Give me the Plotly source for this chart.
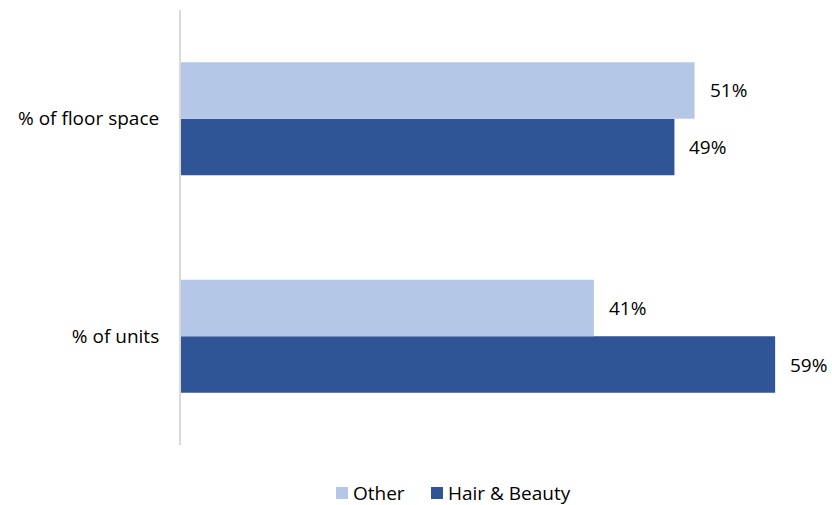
import plotly.graph_objects as go

categories = ["% of units", "% of floor space"]
hair_beauty = [59, 49]
other = [41, 51]

FONT = "Open Sans"
FSIZE = 19
TEXT_COLOR = "#000000"
DARK = "#2F5597"
LIGHT = "#B4C7E7"

L, R, T, B = 181, 20, 10, 60
W, H = 832, 505
PW, PH = W - L - R, H - T - B


def px_x(px):
    return (px - L) / PW


def px_y(py):
    return (H - B - py) / PH


fig = go.Figure()
fig.add_trace(go.Bar(
    name="Hair & Beauty", y=categories, x=hair_beauty, orientation="h",
    marker=dict(color=DARK, line=dict(width=0)),
))
fig.add_trace(go.Bar(
    name="Other", y=categories, x=other, orientation="h",
    marker=dict(color=LIGHT, line=dict(width=0)),
))

# value labels placed just beyond each bar end
bar_w = 0.52 / 2
for vals, off in ((hair_beauty, -bar_w / 2), (other, bar_w / 2)):
    for i, v in enumerate(vals):
        fig.add_annotation(
            x=v, y=i + off, xref="x", yref="y", text=f"{v}%",
            showarrow=False, xanchor="left", yanchor="middle", xshift=13,
            font=dict(family=FONT, size=FSIZE, color=TEXT_COLOR),
        )

# compact legend below the plot: square swatch followed by its label
legend_items = [("Other", LIGHT, 336), ("Hair & Beauty", DARK, 431)]
for name, color, x0 in legend_items:
    fig.add_shape(
        type="rect", xref="paper", yref="paper",
        x0=px_x(x0), x1=px_x(x0 + 12), y0=px_y(499), y1=px_y(487),
        fillcolor=color, line=dict(width=0),
    )
    fig.add_annotation(
        x=px_x(x0 + 15), y=px_y(493), xref="paper", yref="paper",
        text=name, showarrow=False, xanchor="left", yanchor="middle",
        font=dict(family=FONT, size=FSIZE, color=TEXT_COLOR),
    )

fig.update_layout(
    width=W, height=H,
    margin=dict(l=L, r=R, t=T, b=B),
    paper_bgcolor="white", plot_bgcolor="white",
    barmode="group", bargap=0.48, bargroupgap=0,
    font=dict(family=FONT, size=FSIZE, color=TEXT_COLOR),
    showlegend=False,
    xaxis=dict(
        range=[0, 62.66], visible=False, showgrid=False, zeroline=False,
    ),
    yaxis=dict(
        showgrid=False, zeroline=False, showline=True,
        linecolor="#D9D9D9", linewidth=2, ticks="",
        ticklabelstandoff=16,
        tickfont=dict(family=FONT, size=FSIZE, color=TEXT_COLOR),
    ),
)

fig.write_html("out.html")
